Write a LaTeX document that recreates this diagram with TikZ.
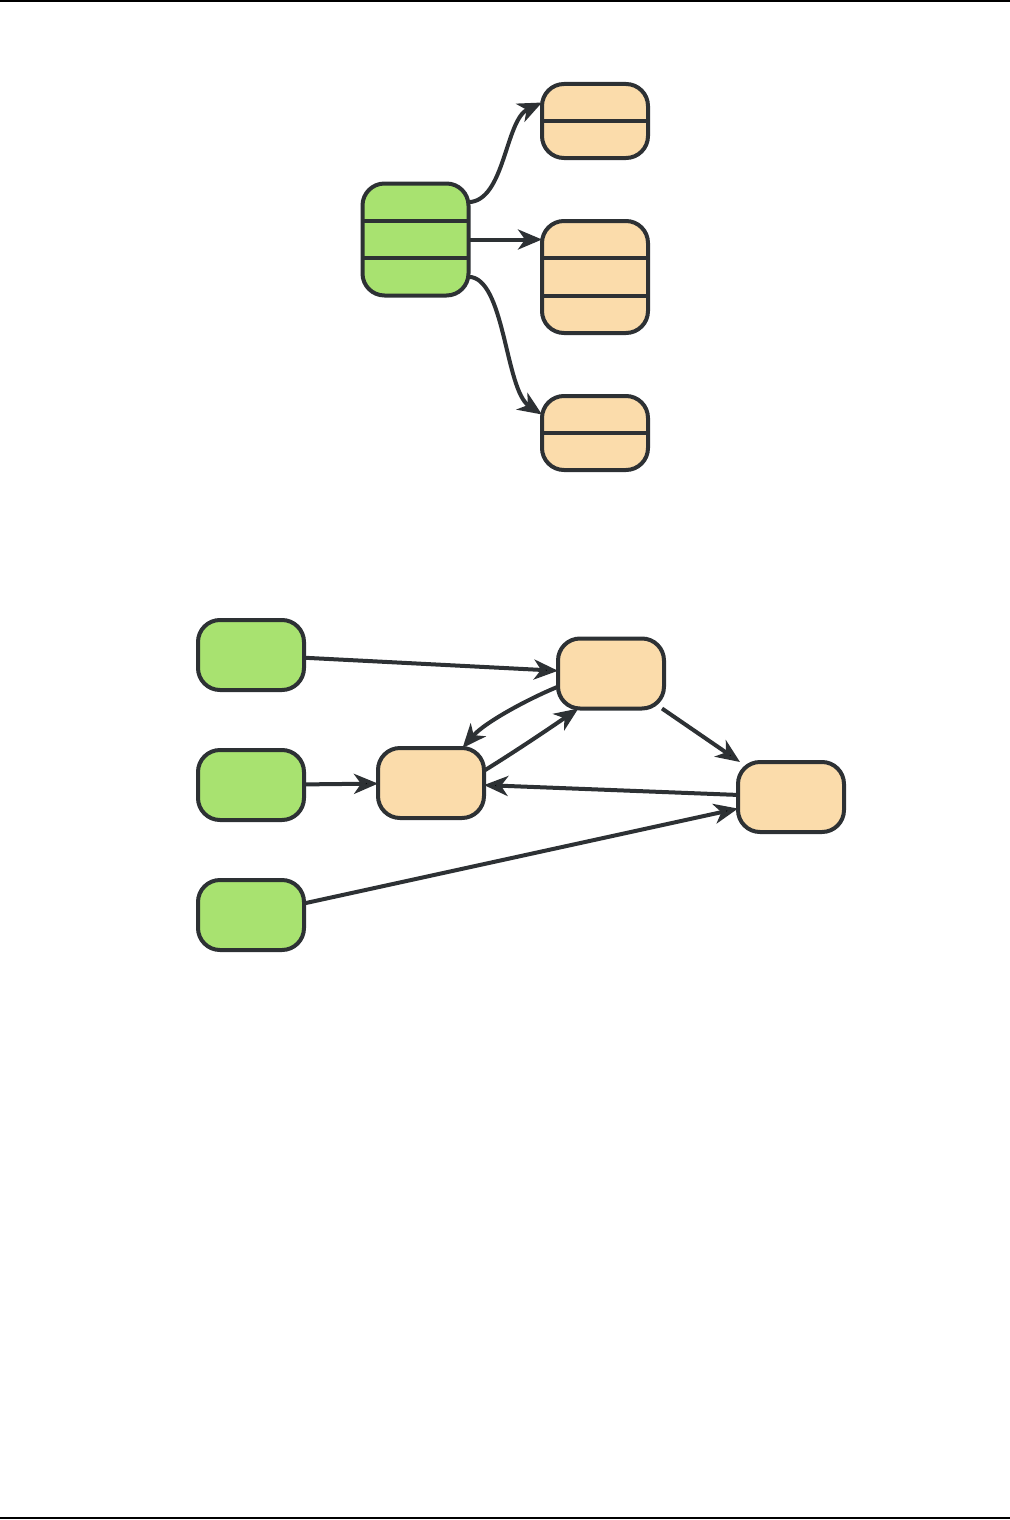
\documentclass[tikz,border=0pt]{standalone}
\usepackage{tikz}
\usetikzlibrary{arrows.meta,calc,positioning}
\definecolor{entgreen}{HTML}{A8E270}
\definecolor{entorange}{HTML}{FBDCAB}
\definecolor{entline}{HTML}{2D3134}

\begin{document}
\begin{tikzpicture}[x=0.5pt, y=-0.5pt,
    ent/.style={draw=entline, line width=2pt, rounded corners=11pt,
      inner sep=0pt, outer sep=0pt, minimum width=53pt},
    src/.style={ent, fill=entgreen},
    dst/.style={ent, fill=entorange},
    sep/.style={draw=entline, line width=2pt},
    rel/.style={draw=entline, line width=2pt,
      -{Stealth[length=12pt, width=10pt, inset=3.5pt]}}]
    \useasboundingbox (0,0) rectangle (1010,1520);
    \draw[line width=1pt] (0,1) -- (1010,1);
    \draw[line width=1pt] (0,1518) -- (1010,1518);

    % upper diagram
    \node[src, minimum height=56pt] (g) at (415.5,239.5) {};
    \node[dst, minimum height=37pt] (o1) at (595,121) {};
    \node[dst, minimum height=56pt] (o2) at (595,277) {};
    \node[dst, minimum height=37pt] (o3) at (595,433) {};
    \foreach \n/\k in {g/0.3333, g/0.6667, o2/0.3333, o2/0.6667, o1/0.5, o3/0.5}
      \path[sep] ($(\n.north west)!\k!(\n.south west)$)
        -- ($(\n.north east)!\k!(\n.south east)$);

    \draw[rel] ($(g.north east)!0.1667!(g.south east)$)
      .. controls (505,201) and (505,120) .. ($(o1.north west)!0.25!(o1.south west)$);
    \draw[rel] (g.east) -- (g.east -| o2.west);
    \draw[rel] ($(g.north east)!0.8333!(g.south east)$)
      .. controls (505,277) and (505,390) .. ($(o3.north west)!0.25!(o3.south west)$);

    % lower diagram
    \node[src, minimum height=35pt] (s1) at (251,655) {};
    \node[src, minimum height=35pt] (s2) at (251,785) {};
    \node[src, minimum height=35pt] (s3) at (251,915) {};
    \node[dst, minimum height=35pt] (a) at (611,673.5) {};
    \node[dst, minimum height=35pt] (b) at (431,783) {};
    \node[dst, minimum height=35pt] (c) at (791,797) {};

    \path[rel]
      (s1) edge (a)
      (s2) edge (b)
      (s3) edge (c)
      (a) edge (c)
      (c) edge (b);
    \draw[rel] (a.194) .. controls (530,698) and (485,722) .. (b.48);
    \draw[rel] (b.13) .. controls (516,751) and (550,728) .. (a.227);
  \end{tikzpicture}
\end{document}
